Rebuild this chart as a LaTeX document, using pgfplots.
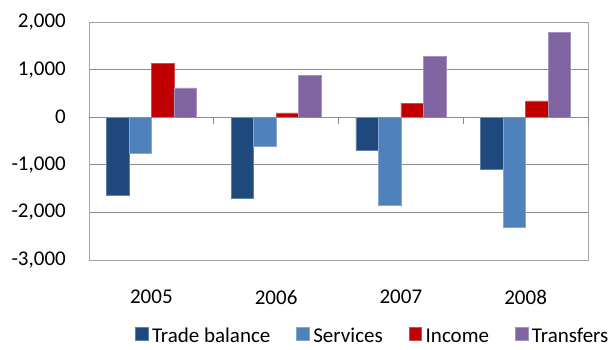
\documentclass[border=0pt]{standalone}
\usepackage{pgfplots}
\pgfplotsset{compat=1.18}
\usepackage{fontspec}
\setmainfont{Carlito}
\definecolor{cTrade}{HTML}{1F497D}
\definecolor{cServ}{HTML}{4F81BD}
\definecolor{cInc}{HTML}{C00000}
\definecolor{cTrans}{HTML}{8064A2}
\definecolor{gridc}{HTML}{8C8C8C}
\begin{document}
\begin{tikzpicture}
\begin{axis}[
  scale only axis,
  width=499pt, height=238pt,
  ybar=0pt, bar width=22.5pt,
  xmin=-0.5, xmax=3.5,
  ymin=-3000, ymax=2000,
  xtick={0,1,2,3},
  xticklabels={2005,2006,2007,2008},
  ytick={-3000,-2000,-1000,0,1000,2000},
  yticklabels={{-3,000},{-2,000},{-1,000},0,{1,000},{2,000}},
  major tick length=0pt,
  ymajorgrids, grid style={gridc, line width=0.8pt},
  axis line style={gridc!80, line width=0.8pt},
  font=\fontsize{21}{25}\selectfont,
  yticklabel style={inner sep=0pt, xshift=-23pt},
  xticklabel style={inner sep=0pt, yshift=-30pt},
  legend columns=4,
  legend style={at={(0.092,-0.32)}, anchor=west, draw=none, fill=none, inner sep=0pt,
    font=\fontsize{21}{25}\selectfont,
    nodes={inner xsep=4pt, inner ysep=1pt, text height=0.68em, text depth=0.12em},
    /tikz/every even column/.append style={column sep=22pt}},
  legend image code/.code={\fill[#1] (0pt,0.3pt) rectangle (12.5pt,12.8pt);},
  clip=false,
]
\addplot[fill=cTrade, draw=cTrade!70!white, line width=0.4pt] coordinates {(0,-1642) (1,-1710) (2,-700) (3,-1086)};
\addplot[fill=cServ, draw=cServ!70!white, line width=0.4pt] coordinates {(0,-765) (1,-610) (2,-1855) (3,-2320)};
\addplot[fill=cInc, draw=cInc!70!white, line width=0.4pt] coordinates {(0,1130) (1,90) (2,288) (3,345)};
\addplot[fill=cTrans, draw=cTrans!70!white, line width=0.4pt] coordinates {(0,617) (1,884) (2,1284) (3,1776)};
\legend{Trade balance, Services, Income, Transfers}
\draw[gridc, line width=0.8pt] (axis cs:-0.5,0) -- (axis cs:3.5,0);
\draw[gridc, line width=0.8pt] (axis cs:0.5,0) -- ([yshift=-7pt]axis cs:0.5,0);
\draw[gridc, line width=0.8pt] (axis cs:1.5,0) -- ([yshift=-7pt]axis cs:1.5,0);
\draw[gridc, line width=0.8pt] (axis cs:2.5,0) -- ([yshift=-7pt]axis cs:2.5,0);
\draw[gridc, line width=0.8pt] (axis cs:3.5,0) -- ([yshift=-7pt]axis cs:3.5,0);
\end{axis}
\path[use as bounding box] ([shift={(-89pt,-89.3pt)}]current axis.south west) rectangle ([shift={(25pt,22pt)}]current axis.north east);
\end{tikzpicture}
\end{document}
